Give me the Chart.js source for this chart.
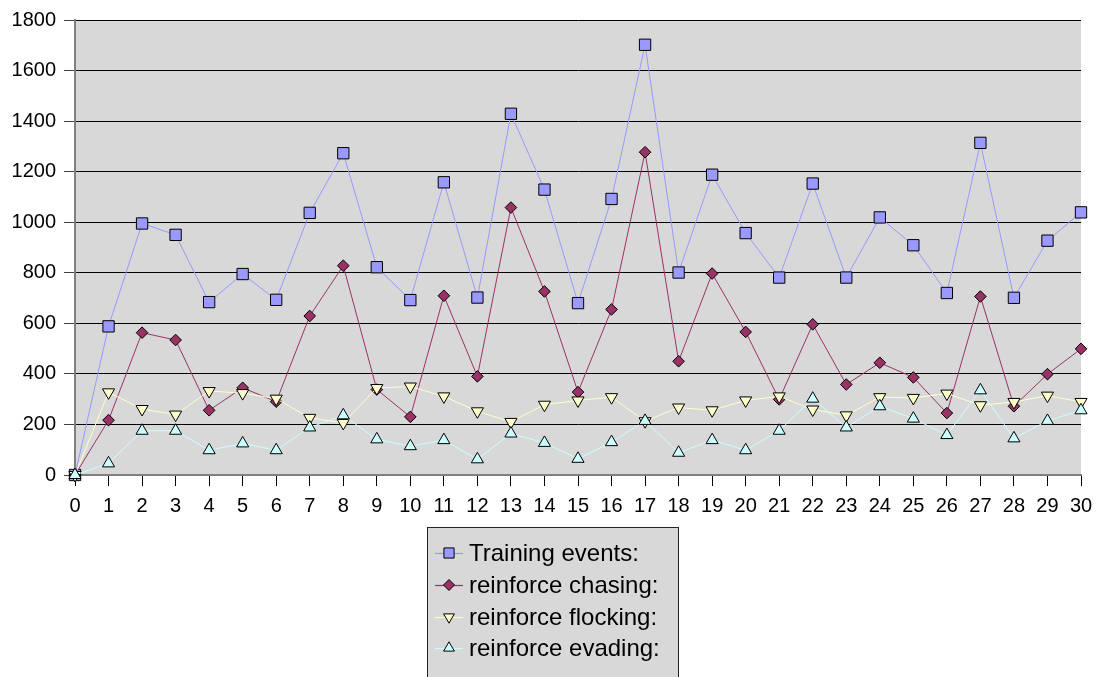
<!DOCTYPE html>
<html>
<head>
<meta charset="utf-8">
<script src="https://cdn.jsdelivr.net/npm/chart.js@4/dist/chart.umd.min.js"></script>
<style>
  html, body { margin: 0; padding: 0; background: #ffffff; }
  #wrap { width: 1096px; height: 677px; }
</style>
</head>
<body>
<div id="wrap"><canvas id="chart" width="1096" height="677"></canvas></div>
<script>
// Steps 0..30 along the x axis
const steps = ['0','1','2','3','4','5','6','7','8','9','10','11','12','13','14','15',
               '16','17','18','19','20','21','22','23','24','25','26','27','28','29','30'];

const yTicks = [0, 200, 400, 600, 800, 1000, 1200, 1400, 1600, 1800];

const seriesNames = ['Training events:', 'reinforce chasing:', 'reinforce flocking:', 'reinforce evading:'];

const trainingEvents = [0, 588, 995, 950, 684, 795, 693, 1037, 1273, 822, 692, 1158, 702, 1429, 1129,
                        680, 1092, 1702, 801, 1188, 957, 781, 1153, 781, 1019, 909, 720, 1314, 701, 927, 1039];
const reinforceChasing = [0, 217, 563, 534, 256, 345, 290, 629, 828, 338, 230, 709, 390, 1058, 726,
                          328, 655, 1277, 450, 797, 566, 299, 596, 358, 444, 386, 245, 706, 272, 399, 499];
const reinforceFlocking = [0, 327, 261, 239, 332, 324, 302, 226, 206, 344, 350, 311, 252, 210, 278,
                           295, 308, 213, 267, 256, 295, 311, 259, 236, 308, 305, 322, 276, 289, 314, 289];
const reinforceEvading = [0, 46, 175, 175, 98, 125, 98, 188, 236, 141, 114, 138, 62, 164, 127,
                          64, 130, 214, 88, 138, 98, 175, 302, 188, 272, 223, 158, 335, 145, 214, 256];

const FONT = '"Liberation Sans", Arial, sans-serif';

function series(label, data, color, style, radius, rotation, order, legendRadius) {
  return {
    label: label,
    data: data,
    borderColor: color,
    backgroundColor: color,
    borderWidth: 1,
    pointStyle: style,
    pointRadius: radius,
    pointHoverRadius: radius,
    pointRotation: rotation,
    pointBackgroundColor: color,
    pointBorderColor: '#000000',
    pointBorderWidth: 1,
    tension: 0,
    clip: false,
    order: order,
    legendRadius: legendRadius
  };
}

// Grey plot background behind the lines
const plotBackground = {
  id: 'plotBackground',
  beforeDraw(chart) {
    const a = chart.chartArea;
    const ctx = chart.ctx;
    ctx.save();
    ctx.fillStyle = '#D8D8D8';
    ctx.fillRect(a.left, a.top, a.right - a.left, a.bottom - a.top);
    ctx.restore();
  }
};

// Boxed vertical legend under the x axis
const boxedLegend = {
  id: 'boxedLegend',
  afterDraw(chart) {
    const ctx = chart.ctx;
    const box = { x: 427.5, y: 527.5, w: 251, h: 170 };
    ctx.save();
    ctx.fillStyle = '#D8D8D8';
    ctx.strokeStyle = '#222222';
    ctx.lineWidth = 1;
    ctx.fillRect(box.x, box.y, box.w, box.h);
    ctx.strokeRect(box.x, box.y, box.w, box.h);

    const rowY = [553, 585, 617, 648];
    chart.data.datasets.forEach((ds, i) => {
      const y = rowY[i];
      ctx.strokeStyle = ds.borderColor;
      ctx.lineWidth = 1.2;
      ctx.beginPath();
      ctx.moveTo(435, y + 0.5);
      ctx.lineTo(463, y + 0.5);
      ctx.stroke();

      ctx.fillStyle = ds.pointBackgroundColor;
      ctx.strokeStyle = '#000000';
      ctx.lineWidth = 1;
      Chart.helpers.drawPoint(ctx, {
        pointStyle: ds.pointStyle,
        rotation: ds.pointRotation,
        radius: ds.legendRadius,
        borderWidth: 1
      }, 449, y);

      ctx.fillStyle = '#000000';
      ctx.font = '24px ' + FONT;
      ctx.textBaseline = 'middle';
      ctx.textAlign = 'left';
      ctx.fillText(ds.label, 469, y + 1);
    });
    ctx.restore();
  }
};

new Chart(document.getElementById('chart'), {
  type: 'line',
  data: {
    labels: steps,
    datasets: [
      series(seriesNames[0], trainingEvents, '#9999FF', 'rect', 8, 0, 4, 7.2),
      series(seriesNames[1], reinforceChasing, '#993366', 'rectRot', 5.8, 0, 3, 5.5),
      series(seriesNames[2], reinforceFlocking, '#FFFFCC', 'triangle', 7, 180, 2, 6.2),
      series(seriesNames[3], reinforceEvading, '#CCFFFF', 'triangle', 7, 0, 1, 6.2)
    ]
  },
  options: {
    responsive: false,
    animation: false,
    events: [],
    layout: { padding: { top: 18, right: 15, left: 0, bottom: 0 } },
    plugins: {
      legend: { display: false },
      tooltip: { enabled: false }
    },
    scales: {
      x: {
        type: 'category',
        offset: false,
        afterFit(scale) { scale.height = 202; scale.paddingRight = 0; },
        grid: {
          drawOnChartArea: false,
          drawTicks: true,
          tickLength: 11,
          tickColor: '#000000',
          tickWidth: 1
        },
        border: { display: true, color: '#808080', width: 2 },
        ticks: {
          color: '#000000',
          font: { family: FONT, size: 20 },
          padding: 8,
          maxRotation: 0,
          autoSkip: false
        }
      },
      y: {
        min: 0,
        max: 1800,
        afterFit(scale) { scale.width = 75; },
        afterBuildTicks(scale) { scale.ticks = yTicks.map(v => ({ value: v })); },
        grid: {
          color: '#000000',
          lineWidth: 1,
          drawTicks: true,
          tickLength: 11,
          tickColor: '#404040'
        },
        border: { display: true, color: '#808080', width: 2 },
        ticks: {
          color: '#000000',
          font: { family: FONT, size: 20 },
          padding: 8,
          callback: (v) => String(v)
        }
      }
    }
  },
  plugins: [plotBackground, boxedLegend]
});
</script>
</body>
</html>
